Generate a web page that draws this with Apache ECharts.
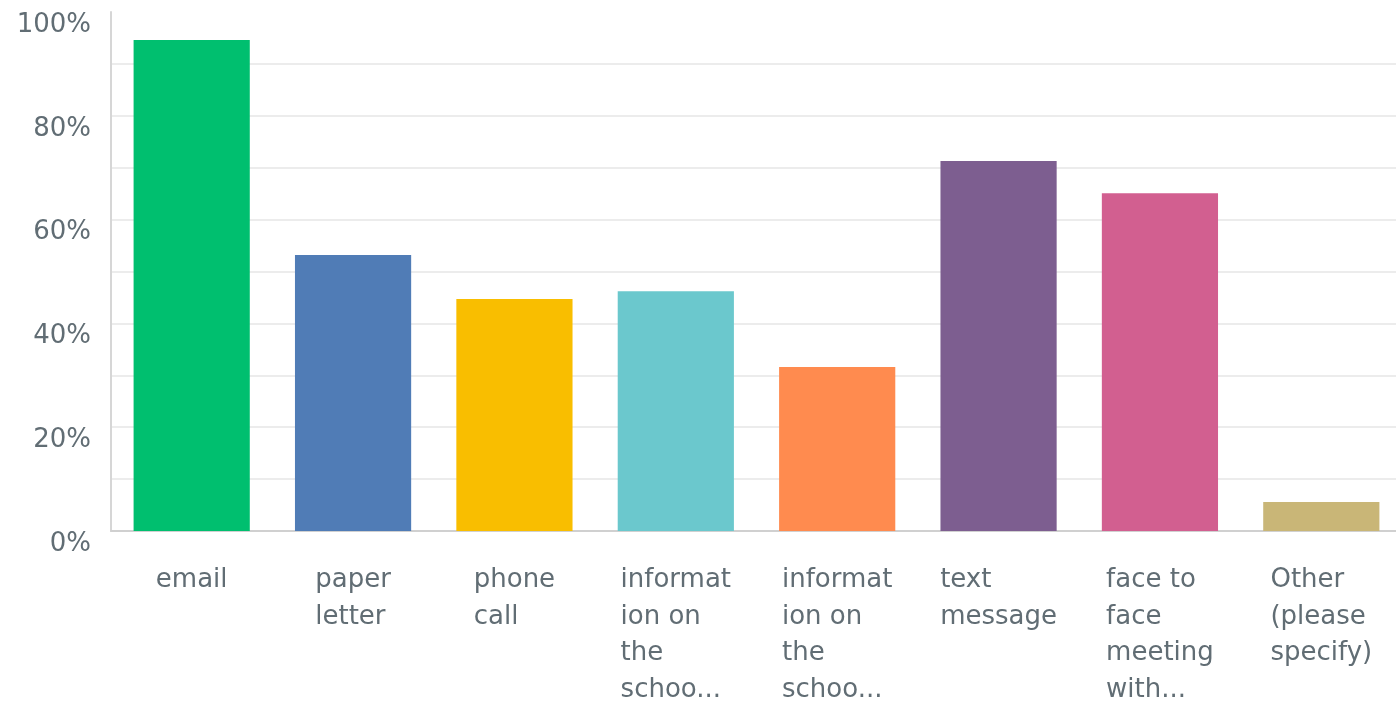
<!DOCTYPE html>
<html>
<head>
<meta charset="utf-8">
<script src="https://cdn.jsdelivr.net/npm/echarts@6/dist/echarts.min.js"></script>
<style>
  html, body { margin: 0; padding: 0; background: #fff; }
  #chart { width: 1396px; height: 702px; }
</style>
</head>
<body>
<div id="chart"></div>
<script>
  // answer choices (labels as shown, already wrapped)
  var categories = [
    'email',
    'paper\nletter',
    'phone\ncall',
    'informat\nion on\nthe\nschoo...',
    'informat\nion on\nthe\nschoo...',
    'text\nmessage',
    'face to\nface\nmeeting\nwith...',
    'Other\n(please\nspecify)'
  ];
  // percent of respondents
  var values = [94.6, 53.2, 44.7, 46.2, 31.6, 71.3, 65.1, 5.6];
  var barColors = ['#00bf6f', '#507cb6', '#f9be00', '#6bc8cd', '#ff8b4f', '#7d5e90', '#d25f90', '#c9b677'];

  var chart = echarts.init(document.getElementById('chart'));
  var font = 'DejaVu Sans';
  var textColor = '#616d74';

  // no grid line on the 100% tick
  var gridColors = [];
  for (var i = 0; i < 10; i++) gridColors.push('#ececec');
  gridColors.push('rgba(0,0,0,0)');

  chart.setOption({
    animation: false,
    grid: { left: 111, right: -6, top: 12, bottom: 171, outerBoundsMode: 'none', containLabel: false },
    xAxis: {
      type: 'category',
      data: categories,
      axisLine: { lineStyle: { color: '#d0d0d0', width: 2 } },
      axisTick: { show: false },
      axisLabel: {
        interval: 0,
        margin: 31,
        color: textColor,
        fontFamily: font,
        fontSize: 26,
        lineHeight: 36.5,
        formatter: function (v) {
          return v.split('\n').map(function (l) { return '{a|' + l + '}'; }).join('\n');
        },
        rich: { a: { align: 'left', fontFamily: font, fontSize: 26, lineHeight: 36.5, color: textColor } }
      }
    },
    yAxis: {
      type: 'value',
      min: 0,
      max: 100,
      interval: 10,
      axisLine: { show: true, lineStyle: { color: '#d6d6d6', width: 2 } },
      axisTick: { show: false },
      splitLine: { lineStyle: { color: gridColors, width: 2 } },
      axisLabel: {
        margin: 20,
        verticalAlign: 'top',
        color: textColor,
        fontFamily: font,
        fontSize: 26,
        formatter: function (v) { return v % 20 === 0 ? v + '%' : ''; }
      }
    },
    series: [{
      type: 'bar',
      barWidth: '72%',
      data: values.map(function (v, i) { return { value: v, itemStyle: { color: barColors[i] } }; })
    }]
  });
</script>
</body>
</html>
